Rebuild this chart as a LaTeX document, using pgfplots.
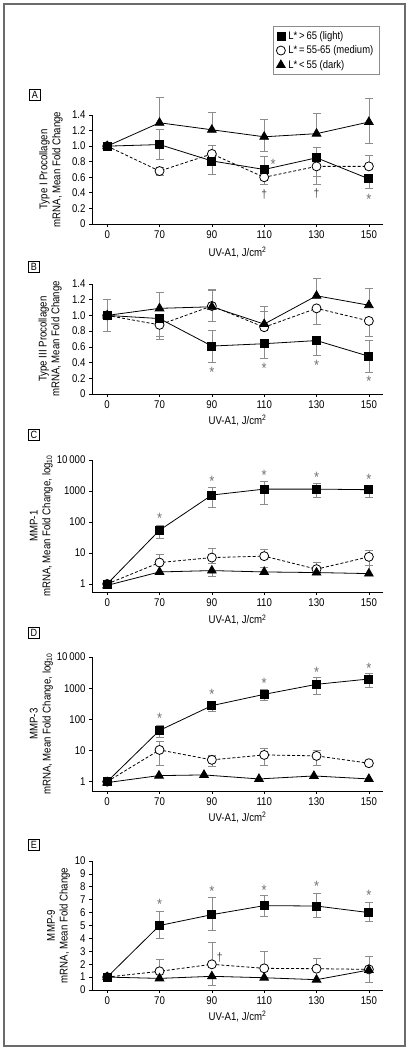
\documentclass[border=0pt]{standalone}
\usepackage{fontspec}
\setmainfont{Liberation Sans}[FakeStretch=0.86]
\usepackage{pgfplots}
\pgfplotsset{compat=1.18}
\definecolor{ebc}{rgb}{0.55,0.55,0.55}
\definecolor{frm}{rgb}{0.42,0.42,0.42}
\definecolor{astc}{rgb}{0.45,0.45,0.45}
\pgfplotsset{
  panel/.style={scale only axis, width=291pt, anchor=south west, xmin=-0.29, xmax=5.27,
    axis x line*=bottom, axis y line*=left, axis line style={line width=0.8pt, -},
    tick align=outside, major tick length=3pt, tick style={line width=0.7pt, black},
    xtick={0,1,2,3,4,5}, xticklabels={0,70,90,110,130,150},
    xlabel={UV-A1, J/cm\textsuperscript{2}},
    ylabel style={align=center, anchor=center},
    xlabel style={anchor=center},
    ticklabel style={font=\fontsize{11.2}{12}\selectfont},
    label style={font=\fontsize{11.2}{12.8}\selectfont},
    /pgf/number format/assume math mode=true,
    clip=false},
  ebase/.style={forget plot, draw=none, mark=none,
    error bars/y explicit,
    error bars/error bar style={draw=ebc, line width=0.7pt, solid},
    error bars/error mark options={draw=ebc, rotate=90, mark size=4pt, line width=0.7pt, solid}},
  ebp/.style={ebase, error bars/y dir=plus},
  ebm/.style={ebase, error bars/y dir=minus},
  sq/.style={forget plot, black, line width=0.8pt, mark=square*, mark size=4pt, mark options={solid, fill=black}},
  ci/.style={forget plot, black, line width=0.8pt, dash pattern=on 3pt off 2pt, mark=*, mark size=4.5pt, mark options={solid, fill=white, draw=black}},
  tr/.style={forget plot, black, line width=0.8pt, mark=triangle*, mark size=5pt, mark options={solid, fill=black}},
}
\tikzset{ast/.style={text=astc, font=\fontsize{15}{16}\selectfont, inner sep=0pt, yshift=-3pt},
  dag/.style={text=astc!60!black, font=\fontsize{12}{13}\selectfont, inner sep=0pt},
  plab/.style={draw=black, line width=0.5pt, inner sep=1.5pt, minimum width=11pt, minimum height=11pt, font=\fontsize{10.5}{12}\selectfont}}
\begin{document}
\begin{tikzpicture}[x=1pt,y=1pt]
\useasboundingbox (0,0) rectangle (409,1050);
\draw[frm, line width=2pt] (4,4) rectangle (405,1046);
\node[plab] at (35,955) {A};
\node[plab] at (34,783) {B};
\node[plab] at (34,615) {C};
\node[plab] at (34,417) {D};
\node[plab] at (34,205.5) {E};

% ---------------- Panel A
\begin{axis}[panel, at={(92pt,826pt)}, height=109pt, ymin=0, ymax=1.4,
  ytick={0,0.2,0.4,0.6,0.8,1,1.2,1.4}, yticklabels={0,0.2,0.4,0.6,0.8,1.0,1.2,1.4},
  ylabel={Type I Procollagen\\mRNA, Mean Fold Change},
  ylabel style={at={(rel axis cs:-0.141,0.5)}},
  xlabel style={at={(rel axis cs:0.5,-0.257)}},
  legend style={at={(rel axis cs:0.622,1.817)}, anchor=north west, draw=ebc, line width=0.8pt,
    font=\fontsize{11}{12}\selectfont, inner xsep=3pt, inner ysep=3pt, row sep=1pt,
    cells={anchor=west}, nodes={inner xsep=3pt}},
  legend image code/.code={\draw[#1] plot coordinates {(0.2cm,0cm)};},
  legend cell align=left]
\addlegendimage{only marks, black, mark=square*, mark size=4pt}
\addlegendentry{L*\,>\,65 (light)}
\addlegendimage{only marks, black, mark=*, mark size=4.5pt, mark options={fill=white}}
\addlegendentry{L*\,=\,55-65 (medium)}
\addlegendimage{only marks, black, mark=triangle*, mark size=5pt}
\addlegendentry{L*\,<\,55 (dark)}
\addplot[ebp] coordinates {(1,1.02) +- (0,0.20) (2,0.81) +- (0,0.10) (3,0.70) +- (0,0.17) (4,0.85) +- (0,0.13)};
\addplot[ebm] coordinates {(1,1.02) +- (0,0.19) (2,0.81) +- (0,0.17) (3,0.70) +- (0,0.19) (4,0.85) +- (0,0.24) (5,0.58) +- (0,0.12)};
\addplot[ebp] coordinates {(1,0.68) +- (0,0.05) (2,0.90) +- (0,0.11) (5,0.74) +- (0,0.14)};
\addplot[ebm] coordinates {(1,0.68) +- (0,0.05) (3,0.60) +- (0,0.09) (4,0.74) +- (0,0.23)};
\addplot[ebp] coordinates {(1,1.30) +- (0,0.33) (2,1.21) +- (0,0.22) (3,1.12) +- (0,0.22) (4,1.16) +- (0,0.26) (5,1.31) +- (0,0.30)};
\addplot[ebm] coordinates {(3,1.12) +- (0,0.19) (5,1.31) +- (0,0.28)};
\addplot[ci] coordinates {(0,1) (1,0.68) (2,0.90) (3,0.60) (4,0.74) (5,0.74)};
\addplot[sq] coordinates {(0,1) (1,1.02) (2,0.81) (3,0.70) (4,0.85) (5,0.58)};
\addplot[tr] coordinates {(0,1) (1,1.30) (2,1.21) (3,1.12) (4,1.16) (5,1.31)};
\node[ast] at (axis cs:3.17,0.81) {*};
\node[dag] at (axis cs:3,0.38) {†};
\node[dag] at (axis cs:4,0.385) {†};
\node[ast] at (axis cs:5,0.355) {*};
\end{axis}

% ---------------- Panel B
\begin{axis}[panel, at={(92pt,656pt)}, height=110pt, ymin=0, ymax=1.4,
  ytick={0,0.2,0.4,0.6,0.8,1,1.2,1.4}, yticklabels={0,0.2,0.4,0.6,0.8,1.0,1.2,1.4},
  ylabel={Type III Procollagen\\mRNA, Mean Fold Change},
  ylabel style={at={(rel axis cs:-0.144,0.5)}},
  xlabel style={at={(rel axis cs:0.5,-0.245)}}]
\addplot[ebp] coordinates {(2,0.61) +- (0,0.20) (5,0.48) +- (0,0.20)};
\addplot[ebm] coordinates {(1,0.96) +- (0,0.22) (2,0.61) +- (0,0.21) (3,0.64) +- (0,0.19) (4,0.68) +- (0,0.19) (5,0.48) +- (0,0.20)};
\addplot[ebp] coordinates {(0,1.00) +- (0,0.20) (2,1.12) +- (0,0.21) (3,0.85) +- (0,0.20)};
\addplot[ebm] coordinates {(0,1.00) +- (0,0.20) (1,0.88) +- (0,0.19) (2,1.12) +- (0,0.20) (4,1.09) +- (0,0.20) (5,0.93) +- (0,0.20)};
\addplot[ebp] coordinates {(1,1.09) +- (0,0.21) (2,1.11) +- (0,0.21) (3,0.89) +- (0,0.22) (4,1.25) +- (0,0.22) (5,1.13) +- (0,0.22)};
\addplot[ci] coordinates {(0,1) (1,0.88) (2,1.12) (3,0.85) (4,1.09) (5,0.93)};
\addplot[sq] coordinates {(0,1) (1,0.96) (2,0.61) (3,0.64) (4,0.68) (5,0.48)};
\addplot[tr] coordinates {(0,1) (1,1.09) (2,1.11) (3,0.89) (4,1.25) (5,1.13)};
\node[ast] at (axis cs:2,0.32) {*};
\node[ast] at (axis cs:3,0.36) {*};
\node[ast] at (axis cs:4,0.40) {*};
\node[ast] at (axis cs:5,0.20) {*};
\end{axis}

% ---------------- Panel C
\begin{axis}[panel, at={(92pt,458pt)}, height=132pt, ymode=log, ymin=0.55, ymax=10000,
  ytick={1,10,100,1000,10000}, yticklabels={1,10,100,1000,10\,000}, yminorticks=false,
  ylabel={MMP-1\\mRNA, Mean Fold Change, log\textsubscript{10}},
  ylabel style={at={(rel axis cs:-0.174,0.5)}},
  xlabel style={at={(rel axis cs:0.5,-0.212)}}]
\addplot[ebp] coordinates {(1,54) +- (0,25) (2,740) +- (0,534) (3,1150) +- (0,840) (4,1150) +- (0,654) (5,1100) +- (0,450)};
\addplot[ebm] coordinates {(1,54) +- (0,25) (2,740) +- (0,453) (3,1150) +- (0,782) (4,1150) +- (0,531) (5,1100) +- (0,465)};
\addplot[ebp] coordinates {(1,4.9) +- (0,4.0) (2,7.1) +- (0,6.8) (3,7.9) +- (0,5.3) (4,3.0) +- (0,2.1) (5,7.5) +- (0,4.2)};
\addplot[ebm] coordinates {(2,7.1) +- (0,2.6) (5,7.5) +- (0,3.5)};
\addplot[ebp] coordinates {(3,2.44) +- (0,1.1) (5,2.16) +- (0,1.8)};
\addplot[ebm] coordinates {(2,2.7) +- (0,0.9)};
\addplot[ci] coordinates {(0,1) (1,4.9) (2,7.1) (3,7.9) (4,3.0) (5,7.5)};
\addplot[sq] coordinates {(0,1) (1,54) (2,740) (3,1150) (4,1150) (5,1100)};
\addplot[tr] coordinates {(0,0.9) (1,2.44) (2,2.7) (3,2.44) (4,2.33) (5,2.16)};
\node[ast] at (axis cs:1,158) {*};
\node[ast] at (axis cs:2,2550) {*};
\node[ast] at (axis cs:3,4000) {*};
\node[ast] at (axis cs:4,3440) {*};
\node[ast] at (axis cs:5,3020) {*};
\end{axis}

% ---------------- Panel D
\begin{axis}[panel, at={(92pt,259pt)}, height=134pt, ymode=log, ymin=0.5, ymax=10000,
  ytick={1,10,100,1000,10000}, yticklabels={1,10,100,1000,10\,000}, yminorticks=false,
  ylabel={MMP-3\\mRNA, Mean Fold Change, log\textsubscript{10}},
  ylabel style={at={(rel axis cs:-0.174,0.5)}},
  xlabel style={at={(rel axis cs:0.5,-0.20)}}]
\addplot[ebp] coordinates {(1,44) +- (0,22) (2,275) +- (0,112) (3,633) +- (0,307) (4,1327) +- (0,843) (5,1970) +- (0,950)};
\addplot[ebm] coordinates {(1,44) +- (0,18) (2,275) +- (0,99) (3,633) +- (0,216) (4,1327) +- (0,693) (5,1970) +- (0,880)};
\addplot[ebp] coordinates {(1,10.4) +- (0,8.8) (2,5.0) +- (0,2.2) (3,7.2) +- (0,4.5) (4,6.7) +- (0,3.4)};
\addplot[ebm] coordinates {(1,10.4) +- (0,7.0) (2,5.0) +- (0,2.0) (3,7.2) +- (0,3.8) (4,6.7) +- (0,3.3)};
\addplot[ci] coordinates {(0,1) (1,10.4) (2,5.0) (3,7.2) (4,6.7) (5,3.9)};
\addplot[sq] coordinates {(0,1) (1,44) (2,275) (3,633) (4,1327) (5,1970)};
\addplot[tr] coordinates {(0,0.93) (0.99,1.56) (1.85,1.64) (2.9,1.22) (3.95,1.52) (5,1.22)};
\node[ast] at (axis cs:1,138) {*};
\node[ast] at (axis cs:2,811) {*};
\node[ast] at (axis cs:3,1828) {*};
\node[ast] at (axis cs:4,4120) {*};
\node[ast] at (axis cs:5,5540) {*};
\end{axis}

% ---------------- Panel E
\begin{axis}[panel, at={(92pt,60pt)}, height=129pt, ymin=0, ymax=10,
  ytick={0,1,2,3,4,5,6,7,8,9,10}, yticklabels={0,1,2,3,4,5,6,7,8,9,10},
  ylabel={MMP-9\\mRNA, Mean Fold Change},
  ylabel style={at={(rel axis cs:-0.115,0.5)}},
  xlabel style={at={(rel axis cs:0.5,-0.209)}}]
\addplot[ebp] coordinates {(1,5.0) +- (0,1.1) (2,5.84) +- (0,1.32) (3,6.54) +- (0,0.8) (4,6.51) +- (0,0.96) (5,6.0) +- (0,0.77)};
\addplot[ebm] coordinates {(1,5.0) +- (0,1.02) (2,5.84) +- (0,1.24) (3,6.54) +- (0,0.8) (4,6.51) +- (0,0.91) (5,6.0) +- (0,0.68)};
\addplot[ebp] coordinates {(1,1.45) +- (0,0.9) (2,1.99) +- (0,1.71) (3,1.68) +- (0,1.29) (4,1.65) +- (0,0.83)};
\addplot[ebp] coordinates {(5,1.55) +- (0,1.06)};
\addplot[ebm] coordinates {(2,1.06) +- (0,0.7) (5,1.55) +- (0,0.93)};
\addplot[ci] coordinates {(0,1) (1,1.45) (2,1.99) (3,1.68) (4,1.65) (5,1.6)};
\addplot[sq] coordinates {(0,1) (1,5.0) (2,5.84) (3,6.54) (4,6.51) (5,6.0)};
\addplot[tr] coordinates {(0,1) (1,0.9) (2,1.06) (3,0.95) (4,0.8) (5,1.55)};
\node[ast] at (axis cs:1,6.9) {*};
\node[ast] at (axis cs:2,7.88) {*};
\node[ast] at (axis cs:3,7.98) {*};
\node[ast] at (axis cs:4,8.27) {*};
\node[ast] at (axis cs:5,7.55) {*};
\node[dag] at (axis cs:2.15,2.5) {†};
\end{axis}
\end{tikzpicture}
\end{document}
